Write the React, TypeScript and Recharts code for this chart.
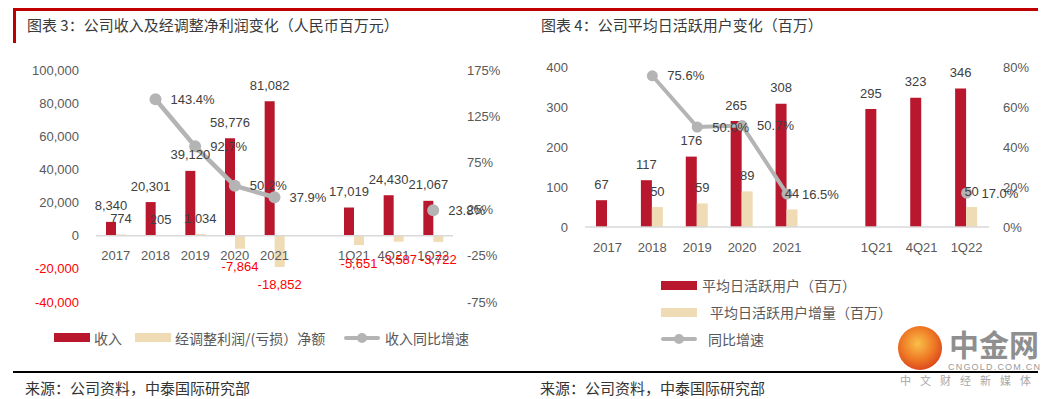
import React from 'react'
import { ComposedChart, Bar, Line, XAxis, YAxis, ReferenceLine, LabelList } from 'recharts'

// 图表3 数据（人民币百万元）
const categories = ['2017', '2018', '2019', '2020', '2021', '', '1Q21', '4Q21', '1Q22']
const revenue = [8340, 20301, 39120, 58776, 81082, null, 17019, 24430, 21067]
const adjProfit = [774, 205, 1034, -7864, -18852, null, -5651, -3587, -3722]
const revenueGrowth = [null, 143.4, 92.7, 50.2, 37.9, null, null, null, 23.8]

// 图表4 数据（百万）
const dau = [67, 117, 176, 265, 308, null, 295, 323, 346]
const dauIncrease = [null, 50, 59, 89, 44, null, null, null, 50]
const dauGrowth = [null, 75.6, 50.0, 50.7, 16.5, null, null, null, 17.0]

const amountTicks = [-40000, -20000, 0, 20000, 40000, 60000, 80000, 100000]
const amountPctTicks = [-75, -25, 25, 75, 125, 175]
const userTicks = [0, 100, 200, 300, 400]
const userPctTicks = [0, 20, 40, 60, 80]

const RED = '#B8172E'
const BEIGE = '#F0DCB4'
const GRAY = '#B4B4B4'
const AXIS_TXT = '#595959'
const LABEL_TXT = '#404040'
const NEG_TXT = '#FF0000'
const FONT = '"Liberation Sans", "Noto Sans CJK SC", sans-serif'
const CJK = '"Noto Sans CJK SC", sans-serif'

const leftData = categories.map((c, i) => ({
  name: c,
  revenue: revenue[i],
  profit: adjProfit[i],
  growth: revenueGrowth[i],
}))

const rightData = categories.map((c, i) => ({
  name: c,
  dau: dau[i],
  inc: dauIncrease[i],
  growth: dauGrowth[i],
}))

const fmtNum = (v: number) => v.toLocaleString('en-US')

function rectOf(props: any) {
  const vb = props.viewBox && props.viewBox.width !== undefined ? props.viewBox : props
  return { x: Number(vb.x), y: Number(vb.y), width: Number(vb.width), height: Number(vb.height) }
}

// 柱状标签：正值在上方，负值红色在下方
const barLabel = (props: any) => {
  const { value } = props
  if (value == null) return null
  const { x, y, width, height } = rectOf(props)
  const top = Math.min(y, y + height)
  const bottom = Math.max(y, y + height)
  const neg = value < 0
  return (
    <text x={x + width / 2} y={neg ? bottom + 18 : top - 16} textAnchor="middle"
      dominantBaseline="central" fill={neg ? NEG_TXT : LABEL_TXT} fontSize={13} fontFamily={FONT}>
      {fmtNum(value)}
    </text>
  )
}

const pctLabel = (props: any) => {
  const { value } = props
  if (value == null) return null
  const x = Number(props.x ?? props.viewBox?.x)
  const y = Number(props.y ?? props.viewBox?.y)
  return (
    <text x={x + 15} y={y} textAnchor="start" dominantBaseline="central"
      fill={LABEL_TXT} fontSize={13} fontFamily={FONT}>
      {value.toFixed(1)}%
    </text>
  )
}

const amountTick = (props: any) => {
  const v = props.payload.value
  return (
    <text x={props.x} y={props.y} textAnchor="end" dominantBaseline="central"
      fill={v < 0 ? NEG_TXT : AXIS_TXT} fontSize={13} fontFamily={FONT}>
      {fmtNum(v)}
    </text>
  )
}

const pctTick = (props: any) => (
  <text x={props.x} y={props.y} textAnchor="start" dominantBaseline="central"
    fill={AXIS_TXT} fontSize={13} fontFamily={FONT}>
    {props.payload.value}%
  </text>
)

const plainTick = (props: any) => (
  <text x={props.x} y={props.y} textAnchor="end" dominantBaseline="central"
    fill={AXIS_TXT} fontSize={13} fontFamily={FONT}>
    {props.payload.value}
  </text>
)

// 类目标签偏移，左图放在零轴下方
const catTick = (dy: number) => (props: any) => (
  <text x={props.x} y={props.y + dy} textAnchor="middle" dominantBaseline="central"
    fill={AXIS_TXT} fontSize={13} fontFamily={FONT}>
    {props.payload.value}
  </text>
)

function RevenueChart() {
  return (
    <ComposedChart width={530} height={340} data={leftData} barGap={0} barSize={10}
      margin={{ top: 70, right: 0, bottom: 8, left: 0 }}>
      <XAxis dataKey="name" axisLine={false} tickLine={false} tickSize={0} tickMargin={0}
        height={30} interval={0} tick={catTick(-47)} />
      <YAxis yAxisId="amt" width={96} domain={[-40000, 100000]} ticks={amountTicks}
        axisLine={false} tickLine={false} tickSize={0} tickMargin={17} tick={amountTick} />
      <YAxis yAxisId="pct" orientation="right" width={77} domain={[-75, 175]} ticks={amountPctTicks}
        axisLine={false} tickLine={false} tickSize={0} tickMargin={14} tick={pctTick} />
      <ReferenceLine yAxisId="amt" y={0} stroke="#D9D9D9" strokeWidth={1.5} />
      <Bar yAxisId="amt" dataKey="revenue" fill={RED} isAnimationActive={false}>
        <LabelList dataKey="revenue" content={barLabel} />
      </Bar>
      <Bar yAxisId="amt" dataKey="profit" fill={BEIGE} isAnimationActive={false}>
        <LabelList dataKey="profit" content={barLabel} />
      </Bar>
      <Line yAxisId="pct" dataKey="growth" stroke={GRAY} strokeWidth={4.5}
        dot={{ r: 6, fill: GRAY, stroke: 'none' }} activeDot={false} isAnimationActive={false}>
        <LabelList dataKey="growth" content={pctLabel} />
      </Line>
    </ComposedChart>
  )
}

function UserChart() {
  return (
    <ComposedChart width={529} height={270} data={rightData} barGap={0} barSize={11}
      margin={{ top: 67, right: 0, bottom: 13, left: 0 }}>
      <XAxis dataKey="name" axisLine={{ stroke: '#D9D9D9', strokeWidth: 1.5 }} tickLine={false}
        tickSize={0} tickMargin={20} height={30} interval={0} tick={catTick(0)} />
      <YAxis yAxisId="users" width={55} domain={[0, 400]} ticks={userTicks}
        axisLine={false} tickLine={false} tickSize={0} tickMargin={17} tick={plainTick} />
      <YAxis yAxisId="pct" orientation="right" width={70} domain={[0, 80]} ticks={userPctTicks}
        axisLine={false} tickLine={false} tickSize={0} tickMargin={14} tick={pctTick} />
      <Bar yAxisId="users" dataKey="dau" fill={RED} isAnimationActive={false}>
        <LabelList dataKey="dau" content={barLabel} />
      </Bar>
      <Bar yAxisId="users" dataKey="inc" fill={BEIGE} isAnimationActive={false}>
        <LabelList dataKey="inc" content={barLabel} />
      </Bar>
      <Line yAxisId="pct" dataKey="growth" stroke={GRAY} strokeWidth={4}
        dot={{ r: 5.5, fill: GRAY, stroke: 'none' }} activeDot={false} isAnimationActive={false}>
        <LabelList dataKey="growth" content={pctLabel} />
      </Line>
    </ComposedChart>
  )
}

const abs = (left: number, top: number, extra: React.CSSProperties = {}): React.CSSProperties => ({
  position: 'absolute', left, top, ...extra,
})

function Swatch({ left, top, color }: { left: number; top: number; color: string }) {
  return <div style={abs(left, top, { width: 36, height: 9, background: color })} />
}

function LineSwatch({ left, top }: { left: number; top: number }) {
  return (
    <div style={abs(left, top, { width: 36, height: 10 })}>
      <div style={{ position: 'absolute', left: 0, top: 3, width: 36, height: 4, background: GRAY, borderRadius: 2 }} />
      <div style={{ position: 'absolute', left: 13, top: 0, width: 10, height: 10, background: GRAY, borderRadius: '50%' }} />
    </div>
  )
}

const legendText: React.CSSProperties = { fontFamily: CJK, fontSize: 14, color: AXIS_TXT, lineHeight: '16px', whiteSpace: 'nowrap' }

export default function App() {
  return (
    <div style={{ position: 'absolute', left: 0, top: 0, width: 1059, height: 399, background: '#fff', overflow: 'hidden' }}>
      {/* 左侧面板边框与标题 */}
      <div style={abs(13, 8, { width: 517, height: 3, background: '#C00000' })} />
      <div style={abs(13, 8, { width: 3, height: 35, background: '#C00000' })} />
      <div style={abs(27, 16, { fontFamily: CJK, fontSize: 15, color: '#3a3a3a', whiteSpace: 'nowrap', lineHeight: '18px' })}>
        图表 3：公司收入及经调整净利润变化（人民币百万元）
      </div>
      {/* 右侧面板边框与标题 */}
      <div style={abs(530, 8, { width: 508, height: 3, background: '#C00000' })} />
      <div style={abs(541, 16, { fontFamily: CJK, fontSize: 15, color: '#3a3a3a', whiteSpace: 'nowrap', lineHeight: '18px' })}>
        图表 4：公司平均日活跃用户变化（百万）
      </div>

      <div style={abs(0, 0)}><RevenueChart /></div>
      <div style={abs(530, 0)}><UserChart /></div>

      {/* 左图图例 */}
      <Swatch left={54} top={333} color={RED} />
      <div style={abs(94, 330, legendText)}>收入</div>
      <Swatch left={135} top={333} color={BEIGE} />
      <div style={abs(175, 330, legendText)}>经调整利润/(亏损）净额</div>
      <LineSwatch left={344} top={333} />
      <div style={abs(385, 330, legendText)}>收入同比增速</div>

      {/* 右图图例 */}
      <Swatch left={661} top={281} color={RED} />
      <div style={abs(702, 277, legendText)}>平均日活跃用户（百万）</div>
      <Swatch left={661} top={308} color={BEIGE} />
      <div style={abs(710, 304, legendText)}>平均日活跃用户增量（百万）</div>
      <LineSwatch left={661} top={334} />
      <div style={abs(708, 331, legendText)}>同比增速</div>

      {/* 水印 */}
      <div style={abs(898, 326, { width: 44, height: 44, borderRadius: '50%', background: 'radial-gradient(circle at 45% 40%, #f9c04a 0%, #ef7a25 45%, #d8401b 80%)' })} />
      <div style={abs(949, 326, { fontFamily: CJK, fontSize: 30, fontWeight: 700, color: '#8f8f8f', lineHeight: '34px', whiteSpace: 'nowrap' })}>中金网</div>
      <div style={abs(948, 362, { fontFamily: FONT, fontSize: 9, color: '#9a9a9a', letterSpacing: 1.2, lineHeight: '10px' })}>CNGOLD.COM.CN</div>
      <div style={abs(900, 374, { fontFamily: CJK, fontSize: 11, color: '#a8a8a8', letterSpacing: 9, lineHeight: '13px', whiteSpace: 'nowrap' })}>中文财经新媒体</div>

      {/* 来源 */}
      <div style={abs(13, 371, { width: 517, height: 1.5, background: '#000' })} />
      <div style={abs(530, 371, { width: 508, height: 1.5, background: '#000' })} />
      <div style={abs(25, 379, { fontFamily: CJK, fontSize: 15, color: '#333', lineHeight: '18px', whiteSpace: 'nowrap' })}>
        来源：公司资料，中泰国际研究部
      </div>
      <div style={abs(540, 379, { fontFamily: CJK, fontSize: 15, color: '#333', lineHeight: '18px', whiteSpace: 'nowrap' })}>
        来源：公司资料，中泰国际研究部
      </div>
    </div>
  )
}
